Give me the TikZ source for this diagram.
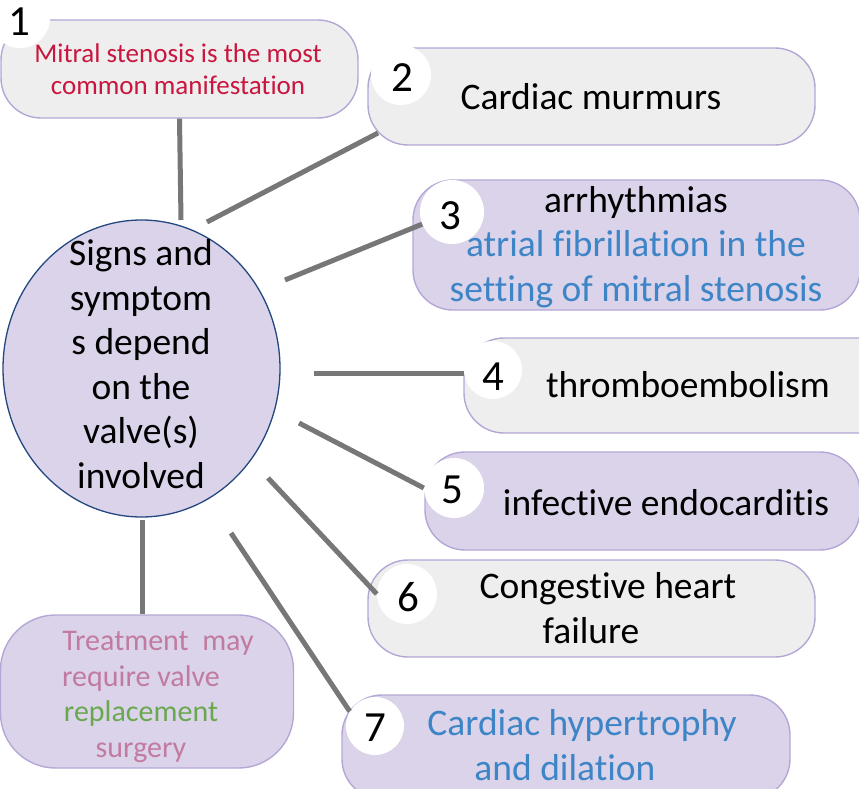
\documentclass[tikz,border=0pt]{standalone}
\usepackage{fontspec}
\setmainfont{Carlito}[Ligatures=NoCommon]
\usetikzlibrary{shapes.geometric}
\definecolor{boxgray}{HTML}{EEEEEE}
\definecolor{boxlav}{HTML}{DAD3E9}
\definecolor{edgelav}{HTML}{B4A7D6}
\definecolor{elledge}{HTML}{24477F}
\definecolor{conncol}{HTML}{777777}
\definecolor{redtxt}{HTML}{C8163E}
\definecolor{bluetxt}{HTML}{3D85C6}
\definecolor{pinktxt}{HTML}{C27BA0}
\definecolor{greentxt}{HTML}{6AA84F}
\tikzset{
  pill/.style={draw=edgelav, line width=1.4pt, rounded corners=40pt, inner sep=0pt},
  graypill/.style={pill, fill=boxgray},
  lavpill/.style={pill, fill=boxlav},
  numc/.style={circle, fill=white, minimum size=60pt, inner sep=0pt, font=\fontsize{43}{43}\selectfont},
  link/.style={draw=conncol, line width=5pt},
  bigtxt/.style={align=center, font=\fontsize{37.5}{44.5}\selectfont, inner sep=0pt, anchor=base},
}
\begin{document}
\begin{tikzpicture}[x=1pt,y=-1pt]
\path[use as bounding box] (0,0) rectangle (859,789);
\clip (0,0) rectangle (859,789);
% boxes
\node[graypill, minimum width=357pt, minimum height=98pt] (b1) at (179.5,69) {};
\node[graypill, minimum width=447pt, minimum height=97pt] (b2) at (591.5,96.5) {};
\node[lavpill, minimum width=447pt, minimum height=130pt] (b3) at (636.5,245) {};
\node[graypill, minimum width=447pt, minimum height=95pt] (b4) at (687.5,385.5) {};
\node[lavpill, minimum width=435pt, minimum height=98pt] (b5) at (642.5,501) {};
\node[graypill, minimum width=447pt, minimum height=97pt] (b6) at (591.5,608.5) {};
\node[lavpill, minimum width=448pt, minimum height=104pt] (b7) at (566,747) {};
\node[lavpill, rounded corners=55pt, minimum width=293pt, minimum height=153pt] (bt) at (147,691.5) {};
\node[ellipse, draw=elledge, line width=1.3pt, fill=boxlav, minimum width=277pt, minimum height=297pt, inner sep=0pt] (ell) at (141.5,368.5) {};
% texts
\node[bigtxt] (tell) at (141,488) {Signs and\\symptom\\s depend\\on the\\valve(s)\\involved};
\node[bigtxt, font=\fontsize{27}{32}\selectfont, text=redtxt] (t1) at (178,95) {Mitral stenosis is the most\\common manifestation};
\node[bigtxt] (t2) at (591,110) {Cardiac murmurs};
\node[bigtxt] (t3) at (636,301) {arrhythmias\\\textcolor{bluetxt}{atrial fibrillation in the}\\\textcolor{bluetxt}{setting of mitral stenosis}};
\node[bigtxt] (t4) at (688,397) {thromboembolism};
\node[bigtxt] (t5) at (666,515) {infective endocarditis};
\node[bigtxt] (t6) at (608,643) {Congestive heart\\failure\hspace*{34pt}};
\node[bigtxt, text=bluetxt] (t7) at (582,780) {Cardiac hypertrophy\\and dilation\hspace*{34pt}};
\node[bigtxt, font=\fontsize{30}{35.5}\selectfont, text=pinktxt] (tt) at (141,757) {\hspace*{34pt}Treatment\ \ may\\require valve\\\textcolor{greentxt}{replacement}\\surgery};
% connector ends
\coordinate (e1) at (181,220);
\coordinate (e2) at (207,222);
\coordinate (f2) at (378,133);
\coordinate (e3) at (285,280);
\coordinate (e4) at (314,373);
\coordinate (e5) at (299,423);
\coordinate (e6) at (268,478);
\coordinate (e7) at (231,533);
\coordinate (e8) at (142,520);
% number circles
\node[numc] (c1) at (20,18) {};
\node[numc] (c2) at (401,75) {};
\node[numc, minimum size=64pt] (c3) at (452,212) {};
\node[numc, minimum size=58pt] (c4) at (493,370) {};
\node[numc] (c5) at (454,488) {};
\node[numc] (c6) at (407,594) {};
\node[numc, minimum size=58pt] (c7) at (375,726) {};
% connectors
\draw[link] (b1.south) -- (e1);
\draw[link] (e2) -- (f2);
\draw[link] (e3) -- (c3);
\draw[link] (e4) -- (c4.west |- e4);
\draw[link] (e5) -- (c5.west);
\draw[link] (e6) -- (c6.west);
\draw[link] (e7) -- (c7.150);
\draw[link] (e8) -- (e8 |- bt.north);
% numbers
\node[numc, fill=none] (n1) at (19,22) {1};
\node[numc, fill=none] (n2) at (402,78) {2};
\node[numc, fill=none] (n3) at (450,216) {3};
\node[numc, fill=none] (n4) at (493,377) {4};
\node[numc, fill=none] (n5) at (452,490) {5};
\node[numc, fill=none] (n6) at (408,597) {6};
\node[numc, fill=none] (n7) at (375,728) {7};
\end{tikzpicture}
\end{document}
